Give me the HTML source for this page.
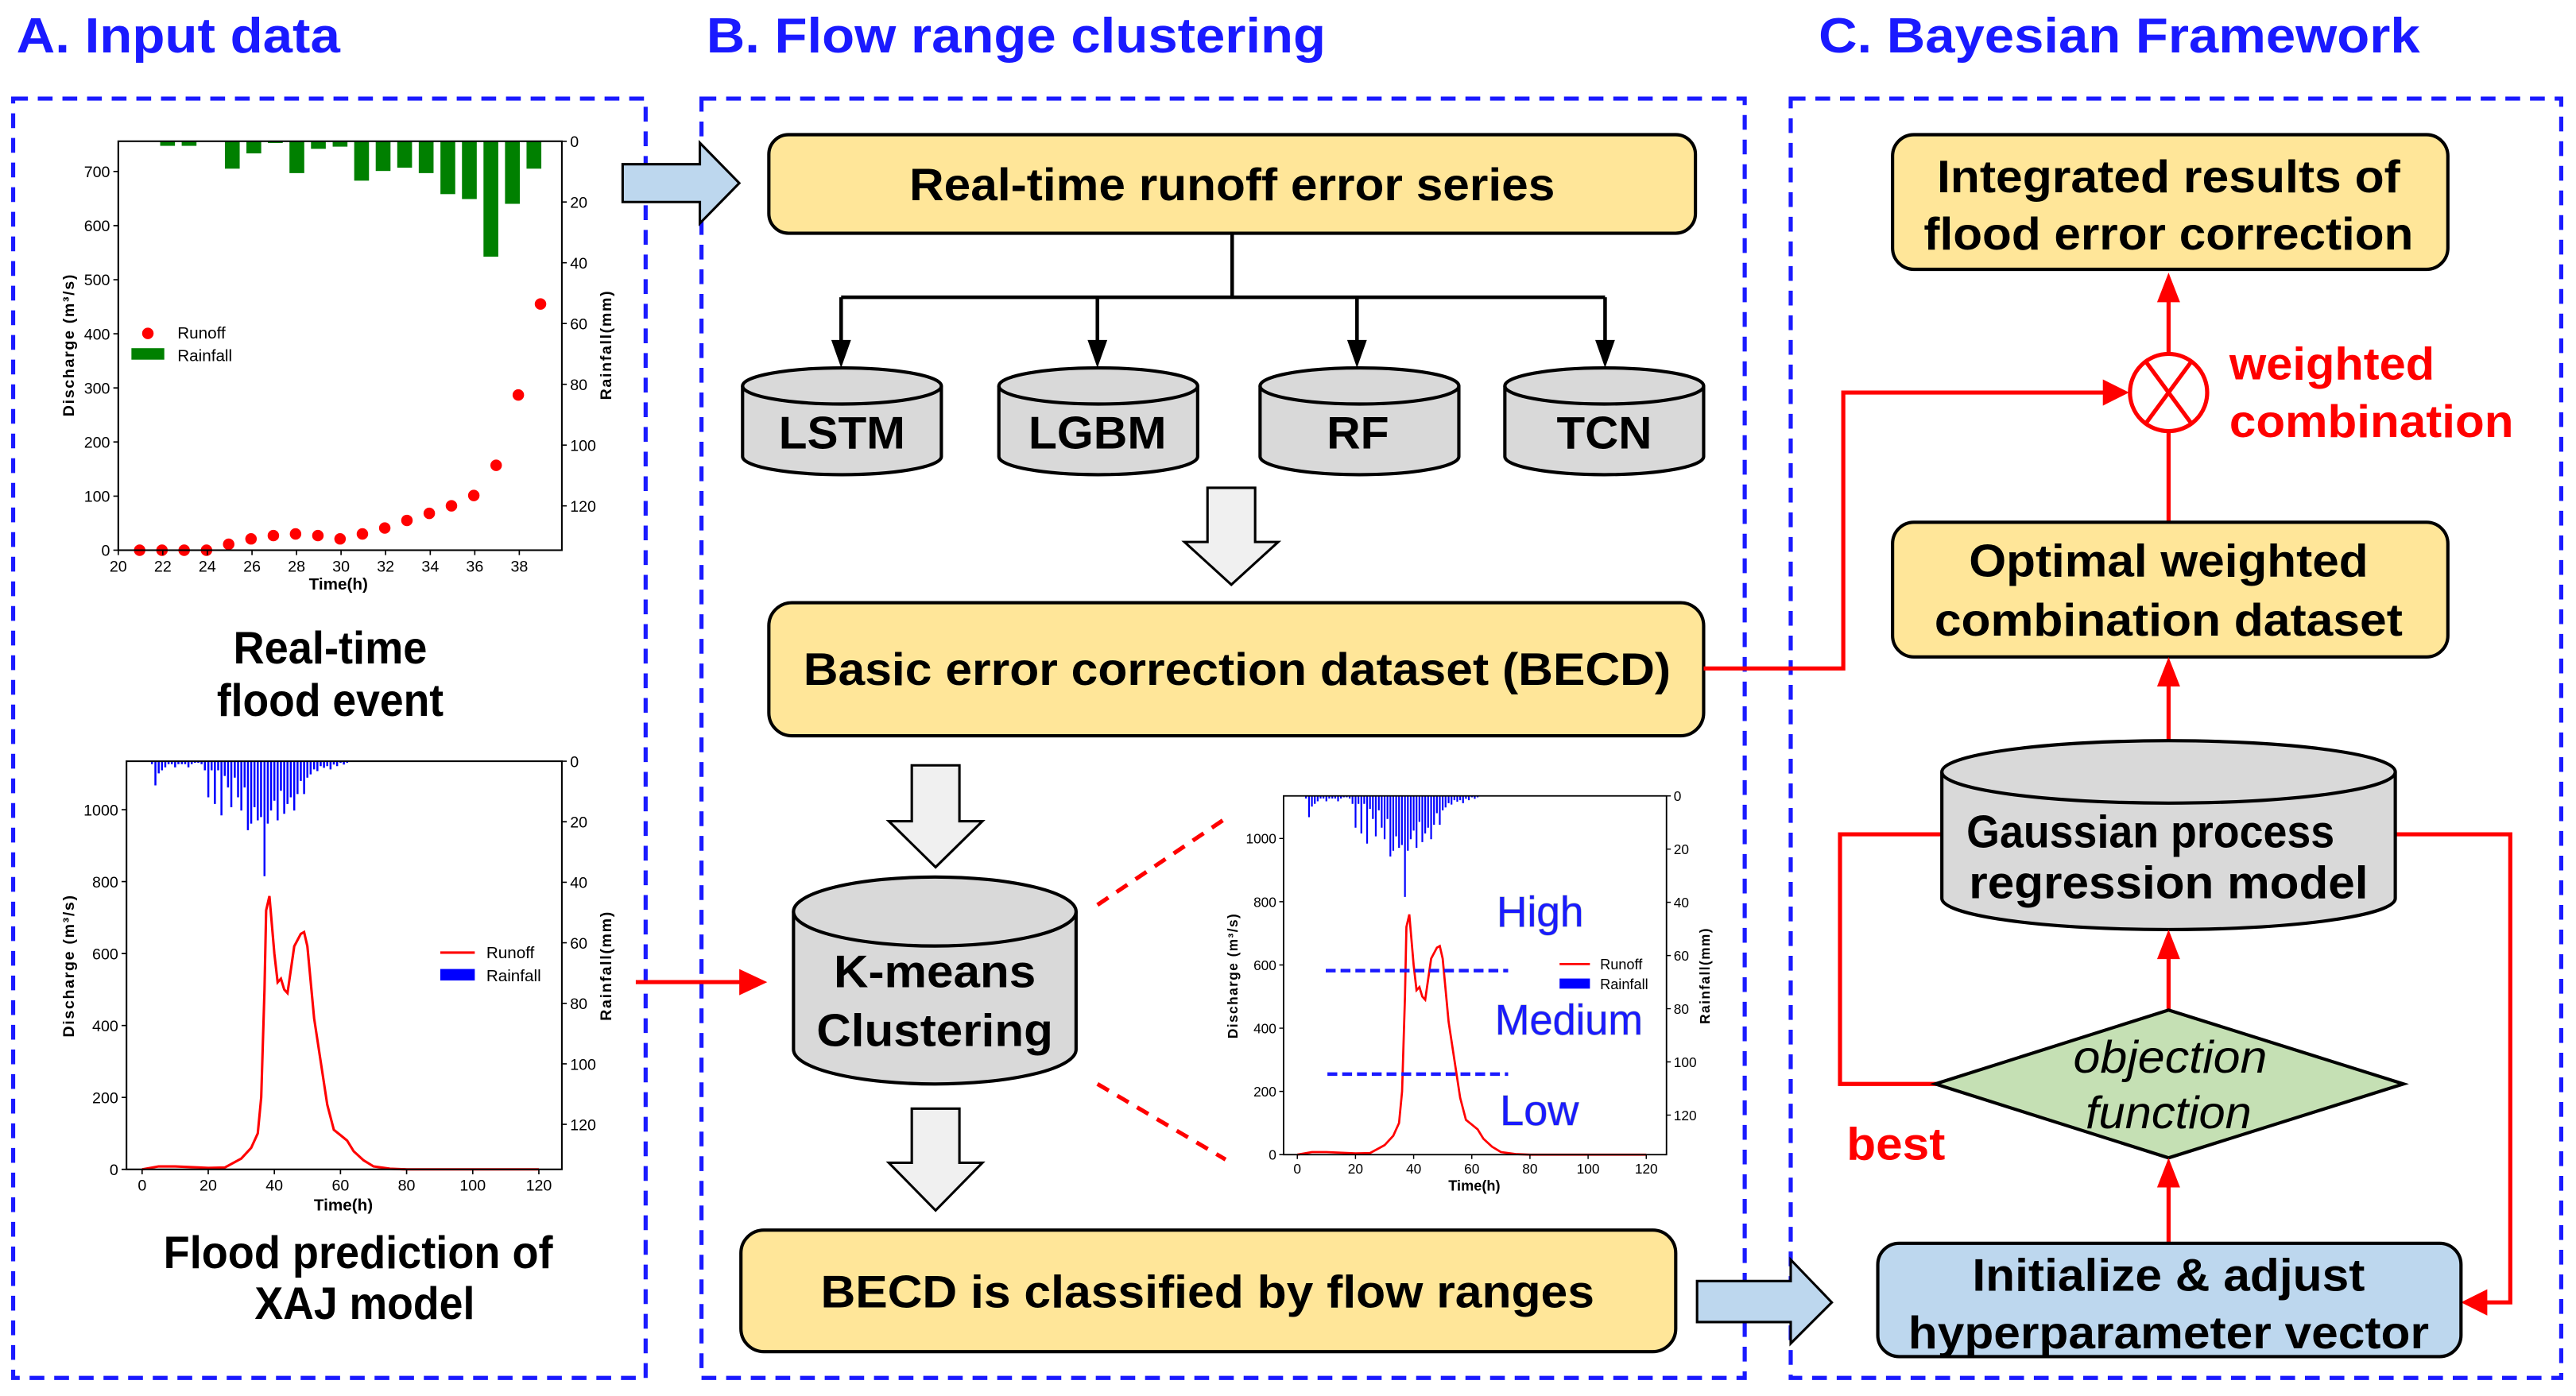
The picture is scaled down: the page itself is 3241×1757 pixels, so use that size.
<!DOCTYPE html>
<html><head><meta charset="utf-8"><style>
html,body{margin:0;padding:0;background:#fff}
svg{display:block}
text{font-family:"Liberation Sans",Arial,sans-serif}
.t{font-weight:bold;font-size:28px;fill:#000}
.title{font-weight:bold;font-size:30px;fill:#1a1aff}
.tk{font-size:9.5px;fill:#000}
.box{fill:#ffe699;stroke:#000;stroke-width:2}
.cyl{fill:#d9d9d9;stroke:#000;stroke-width:2}
.dash{fill:none;stroke:#1a1aff;stroke-width:2.5;stroke-dasharray:9 6}
.red{stroke:#ff0000;stroke-width:2.5;fill:none}
</style></head><body>
<svg width="3241" height="1757" viewBox="0 0 1568 850" preserveAspectRatio="none" xmlns="http://www.w3.org/2000/svg">
<!-- Titles -->
<text class="title" x="10" y="32" textLength="197" lengthAdjust="spacingAndGlyphs">A. Input data</text>
<text class="title" x="430" y="32" textLength="377" lengthAdjust="spacingAndGlyphs">B. Flow range clustering</text>
<text class="title" x="1107" y="32" textLength="366" lengthAdjust="spacingAndGlyphs">C. Bayesian Framework</text>

<!-- Panels -->
<rect class="dash" x="8" y="60" width="385" height="779"/>
<rect class="dash" x="427" y="60" width="635" height="779"/>
<rect class="dash" x="1090" y="60" width="469" height="779"/>

<!-- Chart 1 -->
<g>
<g fill="#008000">
<rect x="97.5" y="86" width="9" height="2.8"/><rect x="110.6" y="86" width="9" height="2.8"/>
<rect x="136.9" y="86" width="9" height="16.7"/><rect x="150" y="86" width="9" height="7.4"/>
<rect x="163.1" y="86" width="9" height="1.1"/><rect x="176.2" y="86" width="9" height="19.4"/>
<rect x="189.3" y="86" width="9" height="4.6"/><rect x="202.5" y="86" width="9" height="3.3"/>
<rect x="215.6" y="86" width="9" height="24"/><rect x="228.7" y="86" width="9" height="18.1"/>
<rect x="241.8" y="86" width="9" height="16.1"/><rect x="254.9" y="86" width="9" height="19.4"/>
<rect x="268.1" y="86" width="9" height="32.2"/><rect x="281.2" y="86" width="9" height="35.2"/>
<rect x="294.3" y="86" width="9" height="70.3"/><rect x="307.4" y="86" width="9" height="38.1"/>
<rect x="320.5" y="86" width="9" height="16.7"/>
</g>
<g fill="#ff0000">
<circle cx="85" cy="335" r="3.5"/><circle cx="98.6" cy="335" r="3.5"/><circle cx="112.1" cy="335" r="3.5"/><circle cx="125.7" cy="335" r="3.5"/>
<circle cx="139.2" cy="331.4" r="3.5"/><circle cx="152.8" cy="328.1" r="3.5"/><circle cx="166.4" cy="326.1" r="3.5"/><circle cx="179.9" cy="325.1" r="3.5"/>
<circle cx="193.5" cy="326.1" r="3.5"/><circle cx="207" cy="328.1" r="3.5"/><circle cx="220.6" cy="325.1" r="3.5"/><circle cx="234.2" cy="321.5" r="3.5"/>
<circle cx="247.7" cy="316.9" r="3.5"/><circle cx="261.3" cy="312.6" r="3.5"/><circle cx="274.8" cy="308" r="3.5"/><circle cx="288.4" cy="301.7" r="3.5"/>
<circle cx="302" cy="283.3" r="3.5"/><circle cx="315.5" cy="240.5" r="3.5"/><circle cx="329" cy="185.1" r="3.5"/>
</g>
<rect x="72" y="86" width="270" height="249" fill="none" stroke="#000" stroke-width="1"/>
<g stroke="#000" stroke-width="0.8">
<path d="M72 335h-3M72 302.1h-3M72 269.1h-3M72 236.2h-3M72 203.2h-3M72 170.3h-3M72 137.4h-3M72 104.4h-3"/>
<path d="M72 335v3M99.1 335v3M126.2 335v3M153.4 335v3M180.5 335v3M207.6 335v3M234.7 335v3M261.9 335v3M289 335v3M316.1 335v3"/>
<path d="M342 86h3M342 123h3M342 160h3M342 197h3M342 234h3M342 271h3M342 308h3"/>
</g>
<g class="tk" text-anchor="end">
<text x="67" y="338.5">0</text><text x="67" y="305.6">100</text><text x="67" y="272.6">200</text><text x="67" y="239.7">300</text>
<text x="67" y="206.7">400</text><text x="67" y="173.8">500</text><text x="67" y="140.9">600</text><text x="67" y="107.9">700</text>
</g>
<g class="tk" text-anchor="middle">
<text x="72" y="348">20</text><text x="99.1" y="348">22</text><text x="126.2" y="348">24</text><text x="153.4" y="348">26</text><text x="180.5" y="348">28</text>
<text x="207.6" y="348">30</text><text x="234.7" y="348">32</text><text x="261.9" y="348">34</text><text x="289" y="348">36</text><text x="316.1" y="348">38</text>
</g>
<g class="tk">
<text x="347" y="89.5">0</text><text x="347" y="126.5">20</text><text x="347" y="163.5">40</text><text x="347" y="200.5">60</text>
<text x="347" y="237.5">80</text><text x="347" y="274.5">100</text><text x="347" y="311.5">120</text>
</g>
<text x="206" y="359" font-size="10" font-weight="bold" text-anchor="middle">Time(h)</text>
<text transform="translate(45,210) rotate(-90)" font-size="9.5" font-weight="bold" text-anchor="middle" letter-spacing="0.8">Discharge (m³/s)</text>
<text transform="translate(372,210) rotate(-90)" font-size="9.5" font-weight="bold" text-anchor="middle" letter-spacing="0.8">Rainfall(mm)</text>
<circle cx="90" cy="203" r="3.5" fill="#ff0000"/>
<text x="108" y="206" font-size="10">Runoff</text>
<rect x="80" y="212" width="20" height="7" fill="#008000"/>
<text x="108" y="220" font-size="10">Rainfall</text>
</g>
<text class="t" x="201" y="404" text-anchor="middle" font-size="25" textLength="118" lengthAdjust="spacingAndGlyphs">Real-time</text>
<text class="t" x="201" y="436" text-anchor="middle" font-size="25" textLength="138" lengthAdjust="spacingAndGlyphs">flood event</text>

<!-- Chart 2 (reused for chart 3) -->
<g id="c2">
<path stroke="#0000ff" stroke-width="1.2" fill="none" d="M92.5 463.5v1.8M94.6 463.5v14.7M96.6 463.5v7.4M98.6 463.5v5.5M100.6 463.5v3.7M102.6 463.5v1.8M104.6 463.5v1.8M106.6 463.5v3.7M108.6 463.5v1.8M110.7 463.5v1.8M112.7 463.5v1.8M114.7 463.5v3.7M116.7 463.5v1.8M118.7 463.5v1M120.7 463.5v1M122.7 463.5v1.8M124.7 463.5v5.5M126.8 463.5v22M128.8 463.5v5.5M130.8 463.5v26M132.8 463.5v5.5M134.8 463.5v33M136.8 463.5v9M138.8 463.5v16M140.8 463.5v28M142.9 463.5v10M144.9 463.5v22M146.9 463.5v30M148.9 463.5v16M150.9 463.5v42M152.9 463.5v38M154.9 463.5v28M156.9 463.5v36M158.9 463.5v34M161 463.5v70M163 463.5v38M165 463.5v30M167 463.5v24M169 463.5v36M171 463.5v18M173 463.5v32M175 463.5v26M177 463.5v22M179.1 463.5v30M181.1 463.5v20M183.1 463.5v12M185.1 463.5v20M187.1 463.5v10M189.1 463.5v8M191.2 463.5v5M193.2 463.5v6M195.2 463.5v3M197.2 463.5v4M199.2 463.5v3M201.2 463.5v5M203.2 463.5v2M205.2 463.5v3M207.3 463.5v1M209.3 463.5v2M211.3 463.5v1"/>
<polyline fill="none" stroke="#ff0000" stroke-width="1.5" points="86.5,712 96.6,710.2 106.6,710.2 126.8,711.1 136.8,710.9 142.9,707.6 146.9,705.4 152.9,698.9 156.9,690.1 159,668.2 161,602.5 162,554.3 164,545.6 167,580.6 169,598.1 171,595.9 173,602.5 175,604.7 179.1,576.2 183.1,568.6 185.1,567.5 187.1,576.2 191.2,620 195.2,646.3 199.2,672.6 203.2,687.9 207.3,691.2 211.3,694.5 215.3,701 221.3,706.5 227.4,710.2 237.4,711.6 247.5,712 328,712"/>
<rect x="77" y="463.5" width="265" height="248.5" fill="none" stroke="#000" stroke-width="1"/>
<g stroke="#000" stroke-width="0.8">
<path d="M77 712h-3M77 668.2h-3M77 624.4h-3M77 580.6h-3M77 536.8h-3M77 493h-3"/>
<path d="M86.5 712v3M126.75 712v3M167 712v3M207.25 712v3M247.5 712v3M287.75 712v3M328 712v3"/>
<path d="M342 463.5h3M342 500.35h3M342 537.2h3M342 574.05h3M342 610.9h3M342 647.75h3M342 684.6h3"/>
</g>
<g class="tk" text-anchor="end">
<text x="72" y="715.5">0</text><text x="72" y="671.7">200</text><text x="72" y="627.9">400</text><text x="72" y="584.1">600</text><text x="72" y="540.3">800</text><text x="72" y="496.5">1000</text>
</g>
<g class="tk" text-anchor="middle">
<text x="86.5" y="725">0</text><text x="126.75" y="725">20</text><text x="167" y="725">40</text><text x="207.25" y="725">60</text><text x="247.5" y="725">80</text><text x="287.75" y="725">100</text><text x="328" y="725">120</text>
</g>
<g class="tk">
<text x="347" y="467">0</text><text x="347" y="503.9">20</text><text x="347" y="540.7">40</text><text x="347" y="577.6">60</text><text x="347" y="614.4">80</text><text x="347" y="651.3">100</text><text x="347" y="688.1">120</text>
</g>
<text x="209" y="737" font-size="10" font-weight="bold" text-anchor="middle">Time(h)</text>
<text transform="translate(45,588) rotate(-90)" font-size="9.5" font-weight="bold" text-anchor="middle" letter-spacing="0.8">Discharge (m³/s)</text>
<text transform="translate(372,588) rotate(-90)" font-size="9.5" font-weight="bold" text-anchor="middle" letter-spacing="0.8">Rainfall(mm)</text>
<path d="M268 580h21" stroke="#ff0000" stroke-width="1.5"/>
<text x="296" y="583.5" font-size="10">Runoff</text>
<rect x="268" y="590" width="21" height="7" fill="#0000ff"/>
<text x="296" y="597.5" font-size="10">Rainfall</text>
</g>
<text class="t" x="218" y="772" text-anchor="middle" font-size="25" textLength="237" lengthAdjust="spacingAndGlyphs">Flood prediction of</text>
<text class="t" x="222" y="803" text-anchor="middle" font-size="25" textLength="134" lengthAdjust="spacingAndGlyphs">XAJ model</text>

<!-- Chart 3 -->
<use href="#c2" transform="matrix(0.8795,0,0,0.879,713.6,77.2)"/>
<path d="M807 591h111M808 654h110" stroke="#1a1aff" stroke-width="2.2" stroke-dasharray="6 3"/>
<g font-size="26" fill="#1a1aff" style="paint-order:stroke" stroke="#9aa" stroke-width="0.5">
<text x="911" y="564" textLength="53" lengthAdjust="spacingAndGlyphs">High</text>
<text x="910" y="630" textLength="90" lengthAdjust="spacingAndGlyphs">Medium</text>
<text x="913" y="685" textLength="48" lengthAdjust="spacingAndGlyphs">Low</text>
</g>

<!-- Arrow A->B -->
<path d="M379 100H426V87L450 111.5L426 136V123H379Z" fill="#bdd7ee" stroke="#000" stroke-width="1.5"/>

<!-- Panel B -->
<rect class="box" x="468" y="82" width="564" height="60" rx="12"/>
<text class="t" x="750" y="122" text-anchor="middle" textLength="393" lengthAdjust="spacingAndGlyphs">Real-time runoff error series</text>
<g stroke="#000" stroke-width="2.2" fill="none">
<path d="M750 142V181M512 181H977M512 181V210M668 181V210M826 181V210M977 181V210"/>
</g>
<g fill="#000">
<polygon points="506,207 518,207 512,224"/><polygon points="662,207 674,207 668,224"/>
<polygon points="820,207 832,207 826,224"/><polygon points="971,207 983,207 977,224"/>
</g>
<g>
<path class="cyl" d="M452 235V278A60.5 11 0 0 0 573 278V235"/><ellipse class="cyl" cx="512.5" cy="235" rx="60.5" ry="11"/>
<path class="cyl" d="M608 235V278A60.5 11 0 0 0 729 278V235"/><ellipse class="cyl" cx="668.5" cy="235" rx="60.5" ry="11"/>
<path class="cyl" d="M767 235V278A60.5 11 0 0 0 888 278V235"/><ellipse class="cyl" cx="827.5" cy="235" rx="60.5" ry="11"/>
<path class="cyl" d="M916 235V278A60.5 11 0 0 0 1037 278V235"/><ellipse class="cyl" cx="976.5" cy="235" rx="60.5" ry="11"/>
</g>
<text class="t" x="512.5" y="273" text-anchor="middle" textLength="77" lengthAdjust="spacingAndGlyphs">LSTM</text>
<text class="t" x="668" y="273" text-anchor="middle" textLength="84" lengthAdjust="spacingAndGlyphs">LGBM</text>
<text class="t" x="826.5" y="273" text-anchor="middle" textLength="38" lengthAdjust="spacingAndGlyphs">RF</text>
<text class="t" x="976.5" y="273" text-anchor="middle" textLength="58" lengthAdjust="spacingAndGlyphs">TCN</text>

<path d="M735 297H764V330H778L749.5 356L721 330H735Z" fill="#f0f0f0" stroke="#000" stroke-width="1.5"/>
<rect class="box" x="468" y="367" width="569" height="81" rx="14"/>
<text class="t" x="753" y="417" text-anchor="middle" textLength="528" lengthAdjust="spacingAndGlyphs">Basic error correction dataset (BECD)</text>
<path d="M555 466H584V500H598L569.5 528L541 500H555Z" fill="#f0f0f0" stroke="#000" stroke-width="1.5"/>
<path class="cyl" d="M483 555V639A86 21 0 0 0 655 639V555"/><ellipse class="cyl" cx="569" cy="555" rx="86" ry="21"/>
<text class="t" x="569" y="601" text-anchor="middle" textLength="123" lengthAdjust="spacingAndGlyphs">K-means</text>
<text class="t" x="569" y="637" text-anchor="middle" textLength="144" lengthAdjust="spacingAndGlyphs">Clustering</text>
<path d="M555 675H584V708H598L569.5 737L541 708H555Z" fill="#f0f0f0" stroke="#000" stroke-width="1.5"/>
<path d="M668 551L748 497M668 660L746 706" stroke="#ff0000" stroke-width="2.5" stroke-dasharray="8 6"/>
<path d="M387 598H452" stroke="#ff0000" stroke-width="2.5"/>
<polygon points="450,590 467,598 450,606" fill="#ff0000"/>
<rect class="box" x="451" y="749" width="569" height="74" rx="14"/>
<text class="t" x="735" y="796" text-anchor="middle" textLength="471" lengthAdjust="spacingAndGlyphs">BECD is classified by flow ranges</text>
<path d="M1033 780H1090V767L1115 793L1090 818V805H1033Z" fill="#bdd7ee" stroke="#000" stroke-width="1.5"/>

<!-- Panel C -->
<rect class="box" x="1152" y="82" width="338" height="82" rx="13"/>
<text class="t" x="1320" y="117" text-anchor="middle" textLength="282" lengthAdjust="spacingAndGlyphs">Integrated results of</text>
<text class="t" x="1320" y="152" text-anchor="middle" textLength="298" lengthAdjust="spacingAndGlyphs">flood error correction</text>
<path class="red" d="M1320 215V182"/>
<polygon points="1313,184 1327,184 1320,166" fill="#ff0000"/>
<circle cx="1320" cy="239" r="23.5" fill="#fff" stroke="#ff0000" stroke-width="2.5"/>
<path d="M1306 220L1334 258M1334 220L1306 258" stroke="#ff0000" stroke-width="2.5"/>
<text x="1357" y="231" font-size="28" font-weight="bold" fill="#ff0000" textLength="125" lengthAdjust="spacingAndGlyphs">weighted</text>
<text x="1357" y="266" font-size="28" font-weight="bold" fill="#ff0000" textLength="173" lengthAdjust="spacingAndGlyphs">combination</text>
<path class="red" d="M1037 407H1122V239H1282"/>
<polygon points="1280,231 1296,239 1280,247" fill="#ff0000"/>
<path class="red" d="M1320 263V318"/>
<rect class="box" x="1152" y="318" width="338" height="82" rx="13"/>
<text class="t" x="1320" y="351" text-anchor="middle" textLength="243" lengthAdjust="spacingAndGlyphs">Optimal weighted</text>
<text class="t" x="1320" y="387" text-anchor="middle" textLength="285" lengthAdjust="spacingAndGlyphs">combination dataset</text>
<path class="red" d="M1320 452V416"/>
<polygon points="1313,418 1327,418 1320,400" fill="#ff0000"/>
<path class="red" d="M1182 508H1120V660H1180M1458 508H1528V793H1512"/>
<polygon points="1514,785 1514,801 1498,793" fill="#ff0000"/>
<path class="cyl" d="M1182 470V547A138 19 0 0 0 1458 547V470"/><ellipse class="cyl" cx="1320" cy="470" rx="138" ry="19"/>
<text class="t" x="1309" y="516" text-anchor="middle" textLength="224" lengthAdjust="spacingAndGlyphs">Gaussian process</text>
<text class="t" x="1320" y="547" text-anchor="middle" textLength="243" lengthAdjust="spacingAndGlyphs">regression model</text>
<path class="red" d="M1320 615V582"/>
<polygon points="1313,584 1327,584 1320,566" fill="#ff0000"/>
<polygon points="1178,660 1320,615 1463,660 1320,705" fill="#c5e0b4" stroke="#000" stroke-width="2"/>
<text x="1321" y="653" font-size="28" font-style="italic" text-anchor="middle" textLength="118" lengthAdjust="spacingAndGlyphs">objection</text>
<text x="1320" y="687" font-size="28" font-style="italic" text-anchor="middle" textLength="101" lengthAdjust="spacingAndGlyphs">function</text>
<text x="1124" y="706" font-size="28" font-weight="bold" fill="#ff0000" textLength="60" lengthAdjust="spacingAndGlyphs">best</text>
<path class="red" d="M1320 757V721"/>
<polygon points="1313,723 1327,723 1320,705" fill="#ff0000"/>
<rect x="1143" y="757" width="355" height="69" rx="13" fill="#bdd7ee" stroke="#000" stroke-width="2"/>
<text class="t" x="1320" y="786" text-anchor="middle" textLength="239" lengthAdjust="spacingAndGlyphs">Initialize &amp; adjust</text>
<text class="t" x="1320" y="821" text-anchor="middle" textLength="317" lengthAdjust="spacingAndGlyphs">hyperparameter vector</text>
</svg>
</body></html>
